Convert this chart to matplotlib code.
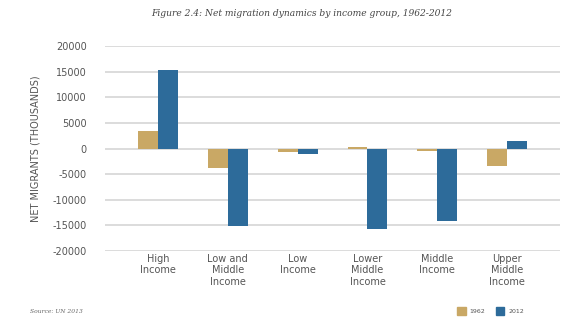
import matplotlib
matplotlib.use("Agg")
import matplotlib.pyplot as plt
import numpy as np

# net migration per income group, thousands
groups = ["High\nIncome", "Low and\nMiddle\nIncome", "Low\nIncome",
          "Lower\nMiddle\nIncome", "Middle\nIncome", "Upper\nMiddle\nIncome"]
net_1962 = [3500, -3900, -600, 350, -400, -3500]
net_2012 = [15400, -15200, -1000, -15700, -14200, 1500]
yticks = [-20000, -15000, -10000, -5000, 0, 5000, 10000, 15000, 20000]

gold = "#C9A865"
blue = "#2D6B9A"
text_grey = "#555555"

fig = plt.figure(figsize=(5.85, 3.25), dpi=100)
ax = fig.add_axes([0.1795, 0.228, 0.778, 0.63])

x = np.arange(len(groups))
w = 0.285
ax.bar(x - w / 2, net_1962, width=w, color=gold, zorder=3)
ax.bar(x + w / 2, net_2012, width=w, color=blue, zorder=3)

ax.set_xlim(-0.76, len(groups) - 0.24)
ax.set_ylim(-20000, 20000)
ax.set_yticks(yticks)
ax.set_yticklabels([str(v) for v in yticks])
ax.grid(axis="y", color="#DCDCDC", linewidth=1.4, zorder=0)
ax.set_axisbelow(True)
for s in ax.spines.values():
    s.set_visible(False)
ax.tick_params(axis="both", length=0, labelsize=7, colors=text_grey)
ax.tick_params(axis="y", pad=13)
ax.set_xticks(x)
ax.set_xticklabels(groups, linespacing=1.2, va="top")
ax.tick_params(axis="x", pad=2)

ax.set_ylabel("NET MIGRANTS (THOUSANDS)", fontsize=7, color=text_grey,
              labelpad=9)

fig.text(0.515, 0.957, "Figure 2.4: Net migration dynamics by income group, 1962-2012",
         ha="center", va="center", fontsize=6.6, style="italic",
         family="DejaVu Serif", color="#444444")
fig.text(0.052, 0.042, "Source: UN 2013", ha="left", va="center",
         fontsize=4.3, style="italic", family="DejaVu Serif", color="#666666")

# small legend in the bottom right corner
fig.patches.append(plt.Rectangle((0.782, 0.03), 0.014, 0.026, color=gold,
                                 transform=fig.transFigure, figure=fig))
fig.text(0.803, 0.042, "1962", fontsize=4.5, color=text_grey, va="center")
fig.patches.append(plt.Rectangle((0.848, 0.03), 0.014, 0.026, color=blue,
                                 transform=fig.transFigure, figure=fig))
fig.text(0.869, 0.042, "2012", fontsize=4.5, color=text_grey, va="center")

fig.savefig("out.png", dpi=100, facecolor="white")
